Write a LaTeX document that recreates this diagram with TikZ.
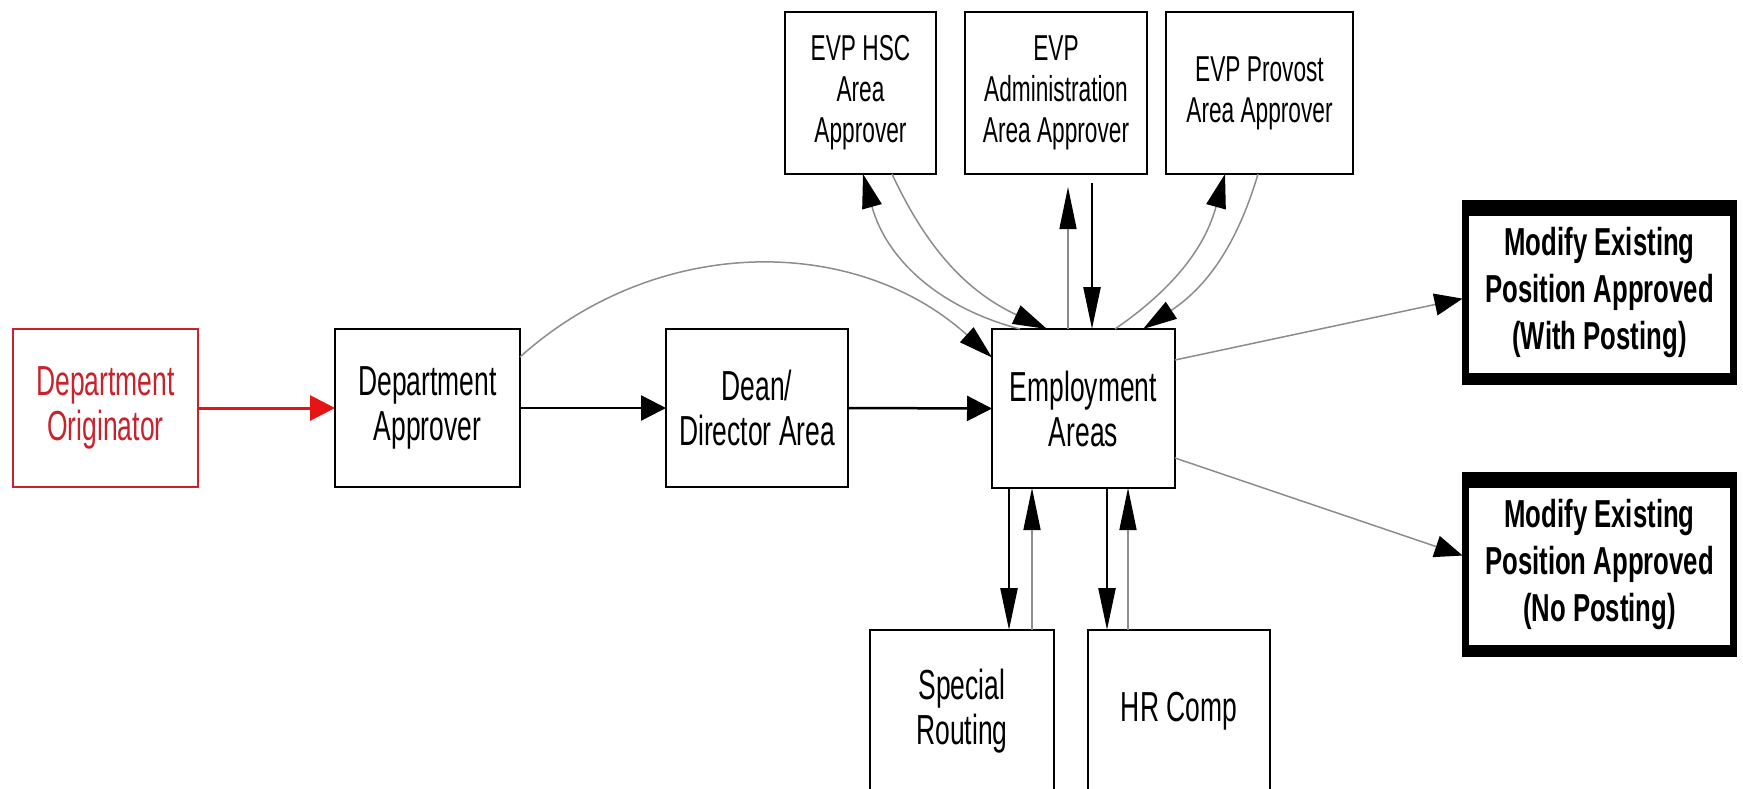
\documentclass[tikz,border=0pt]{standalone}
\usepackage{fontspec}
\setmainfont[FakeStretch=0.63]{Liberation Sans}
\newfontfamily\boldfont[FakeStretch=0.66]{Liberation Sans Bold}
\usetikzlibrary{arrows.meta}
\definecolor{origred}{RGB}{200,35,45}
\definecolor{arrred}{RGB}{230,20,20}
\definecolor{lgray}{RGB}{140,140,140}
\begin{document}
\begin{tikzpicture}[x=1pt,y=-1pt,
  box/.style={draw=black, line width=2.5pt, fill=white, inner sep=0pt, outer sep=0pt,
    align=center, font=\fontsize{42}{45}\selectfont},
  topbox/.style={box, font=\fontsize{36}{41}\selectfont},
  redbox/.style={box, draw=origred, line width=2pt, text=origred},
  endbox/.style={box, line width=7pt, font=\boldfont\fontsize{39}{47}\selectfont,
    path picture={
      \fill[black] (path picture bounding box.north west) rectangle ([yshift=-12pt]path picture bounding box.north east);
      \fill[black] (path picture bounding box.south west) rectangle ([yshift=9pt]path picture bounding box.south east);}},
  blk/.style={line width=2.5pt, -{Triangle[length=25pt,width=25pt]}},
  blkv/.style={line width=2.5pt, -{Triangle[length=42pt,width=17pt]}},
  gryv/.style={line width=1.5pt, lgray, -{Triangle[length=42pt,width=17pt,black]}},
  grc/.style={line width=1.5pt, lgray, -{Triangle[length=34pt,width=20pt,black]}},
  grd/.style={line width=1.5pt, lgray, -{Triangle[length=28pt,width=22pt,black]}},
  redarr/.style={line width=3pt, arrred, -{Triangle[length=25pt,width=25pt]}}
]
\useasboundingbox (0,0) rectangle (1743,788);

% main row
\node[redbox, minimum width=185pt, minimum height=158pt] (orig) at (105.5,408) {Department\\Originator};
\node[box, minimum width=185pt, minimum height=158pt] (appr) at (427.5,408) {Department\\Approver};
\node[box, minimum width=182pt, minimum height=158pt] (dean) at (757,408) {Dean/\\Director Area};
\node[box, minimum width=183pt, minimum height=159pt] (emp) at (1083.5,408.5) {Employment\\Areas};

% top row
\node[topbox, minimum width=151pt, minimum height=162pt] (hsc) at (860.5,93) {EVP HSC\\Area\\Approver};
\node[topbox, minimum width=182pt, minimum height=162pt] (adm) at (1056,93) {EVP\\Administration\\Area Approver};
\node[topbox, minimum width=187pt, minimum height=162pt] (prov) at (1259.5,93) {EVP Provost\\Area Approver};

% right column
\node[endbox, minimum width=268pt, minimum height=178pt] (wp) at (1599.5,292.5) {Modify Existing\\Position Approved\\(With Posting)};
\node[endbox, minimum width=268pt, minimum height=178pt] (np) at (1599.5,564.5) {Modify Existing\\Position Approved\\(No Posting)};

% bottom row
\node[box, minimum width=184pt, minimum height=162pt] (spec) at (962,711) {Special\\Routing};
\node[box, minimum width=182pt, minimum height=162pt] (hr) at (1179,711) {HR Comp};

% main flow
\draw[redarr] (orig.east) -- (appr.west);
\draw[blk] (appr.east) -- (dean.west);
\draw[blk] (dean.east) -- (emp.west);
\draw[grc] ([yshift=51pt]appr.east) to[bend left=42] ([yshift=51pt]emp.west);

% top connections
\draw[grc] ([xshift=-63.5pt]emp.north) to[bend left=30] ([xshift=2.5pt]hsc.south);
\draw[grc] ([xshift=31.5pt]hsc.south) to[bend right=20] ([xshift=-36.5pt]emp.north);
\draw[gryv, shorten >=13pt] ([xshift=-15.5pt]emp.north) -- ([xshift=12pt]adm.south);
\draw[blkv, shorten <=9pt] ([xshift=36pt]adm.south) -- ([xshift=8.5pt]emp.north);
\draw[grc] ([xshift=31.5pt]emp.north) to[bend right=20] ([xshift=-34.5pt]prov.south);
\draw[grc] ([xshift=-1.5pt]prov.south) to[bend left=20] ([xshift=59.5pt]emp.north);

% right connections
\draw[grd, shorten >=3pt] ([yshift=48.5pt]emp.east) -- ([yshift=-5.5pt]wp.west);
\draw[grd, shorten >=3pt] ([yshift=-49.5pt]emp.east) -- ([yshift=8pt]np.west);

% bottom connections
\draw[blkv] ([xshift=-74.5pt]emp.south) -- ([xshift=47pt]spec.north);
\draw[gryv] ([xshift=70pt]spec.north) -- ([xshift=-51.5pt]emp.south);
\draw[blkv] ([xshift=23.5pt]emp.south) -- ([xshift=-72pt]hr.north);
\draw[gryv] ([xshift=-51pt]hr.north) -- ([xshift=44.5pt]emp.south);
\end{tikzpicture}
\end{document}
